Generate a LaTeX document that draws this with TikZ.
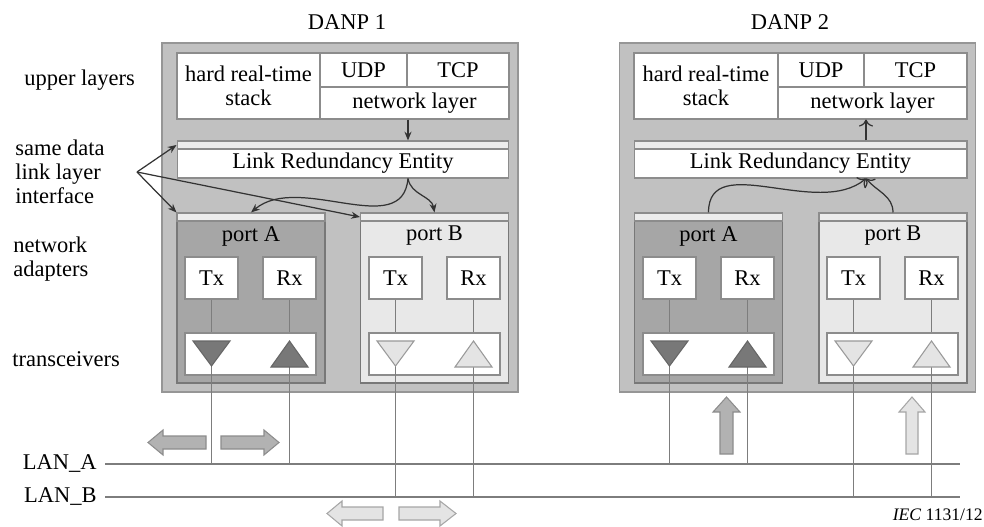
\documentclass[tikz,border=0pt]{standalone}
\usepackage{fontspec}
\setmainfont{Liberation Serif}
\usetikzlibrary{arrows.meta}

\definecolor{danpfill}{RGB}{193,193,193}
\definecolor{danpline}{RGB}{150,150,150}
\definecolor{cellline}{RGB}{140,140,140}
\definecolor{stripfill}{RGB}{236,236,236}
\definecolor{portAfill}{RGB}{166,166,166}
\definecolor{portBfill}{RGB}{232,232,232}
\definecolor{portline}{RGB}{120,120,120}
\definecolor{triAfill}{RGB}{120,120,120}
\definecolor{triBfill}{RGB}{228,228,228}
\definecolor{wireline}{RGB}{125,125,125}
\definecolor{flowAfill}{RGB}{178,178,178}
\definecolor{flowBfill}{RGB}{228,228,228}

\begin{document}
\begin{tikzpicture}[x=0.02cm, y=-0.02cm,
    font=\fontsize{12.8}{13.8}\selectfont,
    side/.style={anchor=west, align=left, inner sep=0},
    danp/.style={draw=danpline, fill=danpfill, line width=0.8pt, minimum width=7.12cm, minimum height=6.98cm, inner sep=0},
    cell/.style={draw=cellline, fill=white, line width=0.6pt, inner sep=0, align=center},
    strip/.style={draw=cellline, fill=stripfill, line width=0.6pt, inner sep=0, minimum height=0.16cm},
    portA/.style={draw=portline, fill=portAfill, line width=0.7pt, minimum width=2.96cm, minimum height=3.4cm, inner sep=0},
    portB/.style={draw=portline, fill=portBfill, line width=0.7pt, minimum width=2.96cm, minimum height=3.4cm, inner sep=0},
    trx/.style={cell, minimum width=1.06cm, minimum height=0.84cm},
    xcvr/.style={cell, minimum width=2.62cm, minimum height=0.84cm},
    wire/.style={draw=wireline, line width=0.6pt},
    triA/.style={draw=black!60, fill=triAfill, line width=0.6pt},
    triB/.style={draw=black!40, fill=triBfill, line width=0.6pt},
    flowA/.style={draw=black!45, fill=flowAfill, line width=0.6pt},
    flowB/.style={draw=black!35, fill=flowBfill, line width=0.6pt},
    sig/.style={-{Stealth[length=5pt,width=4pt]}, draw=black!80, line width=0.7pt},
    sigup/.style={-{To[length=4pt,width=8pt]}, draw=black!80, line width=0.7pt}]
    \useasboundingbox (0,0) rectangle (984,527);

    % titles and row labels
    \node (title1) at (347,22) {DANP 1};
    \node (title2) at (790,22) {DANP 2};
    \node[side] (lupper) at (24,80) {upper layers};
    \node[side] (liface) at (15,172) {same data\\link layer\\interface};
    \node[side] (ladapt) at (13,259) {network\\adapters};
    \node[side] (ltrans) at (12,359) {transceivers};

    % DANP 1
    \node[danp] (danp1) at (340,217.5) {};
    \node[cell, minimum width=2.86cm, minimum height=1.32cm] (hrt1) at (248.5,86) {hard real-time\\stack};
    \node[cell, minimum width=1.74cm, minimum height=0.68cm] (udp1) at (363.5,70) {UDP};
    \node[cell, minimum width=2.04cm, minimum height=0.68cm] (tcp1) at (458,70) {TCP};
    \node[cell, minimum width=3.78cm, minimum height=0.64cm] (net1) at (414.5,103) {network layer};
    \node[strip, minimum width=6.64cm] (lretop1) at (343,145) {};
    \node[cell, minimum width=6.64cm, minimum height=0.58cm] (lre1) at (343,163.5) {Link Redundancy Entity};

    \node[portA] (pa1) at (251,298) {};
    \node[strip, minimum width=2.96cm] (pa1top) at (251,217) {};
    \node (pa1txt) at (251,236) {port A};
    \node[trx] (txa1) at (211.5,278) {Tx};
    \node[trx] (rxa1) at (289.5,278) {Rx};
    \node[xcvr] (tra1) at (250.5,354) {};

    \node[portB] (pb1) at (434.5,298) {};
    \node[strip, minimum width=2.96cm] (pb1top) at (434.5,217) {};
    \node (pb1txt) at (434.5,236) {port B};
    \node[trx] (txb1) at (395.5,278) {Tx};
    \node[trx] (rxb1) at (473.5,278) {Rx};
    \node[xcvr] (trb1) at (434.5,354) {};

    % DANP 2
    \node[danp] (danp2) at (797.5,217.5) {};
    \node[cell, minimum width=2.88cm, minimum height=1.32cm] (hrt2) at (706,86) {hard real-time\\stack};
    \node[cell, minimum width=1.72cm, minimum height=0.68cm] (udp2) at (821,70) {UDP};
    \node[cell, minimum width=2.06cm, minimum height=0.68cm] (tcp2) at (915.5,70) {TCP};
    \node[cell, minimum width=3.78cm, minimum height=0.64cm] (net2) at (872.5,103) {network layer};
    \node[strip, minimum width=6.66cm] (lretop2) at (800.5,145) {};
    \node[cell, minimum width=6.66cm, minimum height=0.58cm] (lre2) at (800.5,163.5) {Link Redundancy Entity};

    \node[portA] (pa2) at (708.5,298) {};
    \node[strip, minimum width=2.96cm] (pa2top) at (708.5,217) {};
    \node (pa2txt) at (708.5,236) {port A};
    \node[trx] (txa2) at (669.5,278) {Tx};
    \node[trx] (rxa2) at (747.5,278) {Rx};
    \node[xcvr] (tra2) at (708.5,354) {};

    \node[portB] (pb2) at (893,298) {};
    \node[strip, minimum width=2.96cm] (pb2top) at (893,217) {};
    \node (pb2txt) at (893,236) {port B};
    \node[trx] (txb2) at (853.5,278) {Tx};
    \node[trx] (rxb2) at (931.5,278) {Rx};
    \node[xcvr] (trb2) at (892.5,354) {};

    % LANs
    \node[anchor=east, inner sep=0] (lana) at (97,464) {LAN\_A};
    \node[anchor=east, inner sep=0] (lanb) at (97,497) {LAN\_B};
    \coordinate (lanaw) at (105,464);
    \coordinate (lanae) at (960,464);
    \coordinate (lanbw) at (105,497);
    \coordinate (lanbe) at (960,497);
    \draw[wire] (lanaw) -- (lanae);
    \draw[wire] (lanbw) -- (lanbe);

    % wires Tx/Rx -> transceiver -> LAN
    \draw[wire] (txa1.south) -- (txa1.south |- tra1.north);
    \draw[wire] (rxa1.south) -- (rxa1.south |- tra1.north);
    \draw[wire] (txb1.south) -- (txb1.south |- trb1.north);
    \draw[wire] (rxb1.south) -- (rxb1.south |- trb1.north);
    \draw[wire] (txa2.south) -- (txa2.south |- tra2.north);
    \draw[wire] (rxa2.south) -- (rxa2.south |- tra2.north);
    \draw[wire] (txb2.south) -- (txb2.south |- trb2.north);
    \draw[wire] (rxb2.south) -- (rxb2.south |- trb2.north);

    \draw[wire] (txa1.south |- tra1.center) -- (txa1.south |- lanaw);
    \draw[wire] (rxa1.south |- tra1.center) -- (rxa1.south |- lanaw);
    \draw[wire] (txb1.south |- trb1.center) -- (txb1.south |- lanbw);
    \draw[wire] (rxb1.south |- trb1.center) -- (rxb1.south |- lanbw);
    \draw[wire] (txa2.south |- tra2.center) -- (txa2.south |- lanaw);
    \draw[wire] (rxa2.south |- tra2.center) -- (rxa2.south |- lanaw);
    \draw[wire] (txb2.south |- trb2.center) -- (txb2.south |- lanbw);
    \draw[wire] (rxb2.south |- trb2.center) -- (rxb2.south |- lanbw);

    % transceiver triangles
    \draw[triA] (193,341) -- (230,341) -- (211.5,366) -- cycle;
    \draw[triA] (271,367) -- (308,367) -- (289.5,341) -- cycle;
    \draw[triB] (377,341) -- (414,341) -- (395.5,366) -- cycle;
    \draw[triB] (455,367) -- (492,367) -- (473.5,341) -- cycle;
    \draw[triA] (651,341) -- (688,341) -- (669.5,366) -- cycle;
    \draw[triA] (729,367) -- (766,367) -- (747.5,341) -- cycle;
    \draw[triB] (835,341) -- (872,341) -- (853.5,366) -- cycle;
    \draw[triB] (913,367) -- (950,367) -- (931.5,341) -- cycle;

    % traffic
    \coordinate (hub1) at ([xshift=1.3cm]lre1.south);
    \coordinate (hub2) at ([xshift=1.31cm]lre2.south);
    \draw[sig] (net1.south -| hub1) -- (lretop1.north -| hub1);
    \draw[sig] (hub1) to[out=-95, in=40] (pa1top.north);
    \draw[sig] (hub1) to[out=-80, in=100] (pb1top.north);
    \draw[sigup] (lretop2.north -| hub2) -- (net2.south -| hub2);
    \draw[sigup] (pa2top.north) to[out=90, in=-140] (hub2);
    \draw[sigup] (pb2top.north) to[out=90, in=-50] (hub2);

    \coordinate (ifc) at (137,172);
    \draw[sig] (ifc) -- (lretop1.west);
    \draw[sig] (ifc) -- (pa1top.north west);
    \draw[sig] (ifc) -- (pb1top.west);

    % frame flow arrows
    \draw[flowA] (206,436) -- (163,436) -- (163,430) -- (148,442.5) -- (163,455) -- (163,449) -- (206,449) -- cycle;
    \draw[flowA] (221,436) -- (264,436) -- (264,430) -- (279,442.5) -- (264,455) -- (264,449) -- (221,449) -- cycle;
    \draw[flowB] (383,507) -- (342,507) -- (342,501) -- (327,513.5) -- (342,526) -- (342,520) -- (383,520) -- cycle;
    \draw[flowB] (399,507) -- (440,507) -- (440,501) -- (456,513.5) -- (440,526) -- (440,520) -- (399,520) -- cycle;
    \draw[flowA] (720,454) -- (720,412) -- (713,412) -- (726.5,397) -- (740,412) -- (733,412) -- (733,454) -- cycle;
    \draw[flowB] (906,454) -- (906,412) -- (899,412) -- (912,397) -- (925,412) -- (918,412) -- (918,454) -- cycle;

    \node[anchor=east, inner sep=0, font=\fontsize{10}{11}\selectfont] (iec) at (983,515) {\textit{IEC} 1131/12};
\end{tikzpicture}
\end{document}
